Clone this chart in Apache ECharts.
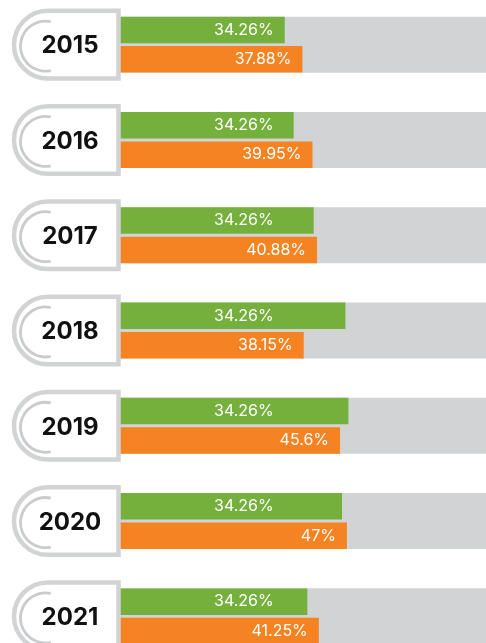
<!DOCTYPE html>
<html>
<head>
<meta charset="utf-8">
<script src="https://cdn.jsdelivr.net/npm/echarts@6/dist/echarts.min.js"></script>
<style>
  html, body { margin: 0; padding: 0; background: #fff; }
  #chart { width: 486px; height: 643px; }
</style>
</head>
<body>
<div id="chart"></div>
<script>
// data
var years = ["2015", "2016", "2017", "2018", "2019", "2020", "2021"];
var greenLabelValues = [34.26, 34.26, 34.26, 34.26, 34.26, 34.26, 34.26];
var greenBarValues = [34.26, 36.1, 40.2, 46.7, 47.3, 46.0, 38.9];
var orangeValues = [37.88, 39.95, 40.88, 38.15, 45.6, 47, 41.25];
var trackMax = 75.5;

var trackValues = years.map(function () { return trackMax; });

var chart = echarts.init(document.getElementById("chart"));

var labelFont = { color: "#fff", fontSize: 16, fontFamily: "Inter" };

// green label sits where the 34.26 mark is, whatever the bar length
var greenData = greenBarValues.map(function (v, i) {
  return {
    value: v,
    label: {
      show: true,
      position: [(greenLabelValues[i] / v * 100) + "%", "50%"],
      align: "right",
      verticalAlign: "middle",
      offset: [-11, 0],
      formatter: greenLabelValues[i] + "%",
      color: labelFont.color,
      fontSize: labelFont.fontSize,
      fontFamily: labelFont.fontFamily
    }
  };
});

var option = {
  animation: false,
  grid: { left: 117.5, right: 0, top: -3, bottom: -21, outerBoundsMode: "none" },
  xAxis: { type: "value", min: 0, max: trackMax, show: false },
  yAxis: [
    { type: "category", data: years, inverse: true, show: false },
    { type: "category", data: years, inverse: true, show: false }
  ],
  series: [
    {
      // grey track behind both bars
      type: "bar",
      yAxisIndex: 1,
      data: trackValues,
      barWidth: 56,
      itemStyle: { color: "#d1d3d4" },
      silent: true,
      z: 1
    },
    {
      type: "bar",
      data: greenData,
      barWidth: 26.5,
      barGap: "11%",
      itemStyle: { color: "#75b03c" },
      z: 2
    },
    {
      type: "bar",
      data: orangeValues,
      barWidth: 26.5,
      barGap: "11%",
      itemStyle: { color: "#f58322" },
      label: {
        show: true,
        position: "insideRight",
        distance: 11,
        color: labelFont.color,
        fontSize: labelFont.fontSize,
        fontFamily: labelFont.fontFamily,
        formatter: function (p) { return p.value + "%"; }
      },
      z: 2
    },
    {
      // year badges
      type: "custom",
      clip: false,
      z: 10,
      data: years.map(function (y) { return [0, y]; }),
      encode: { x: 0, y: 1 },
      renderItem: function (params, api) {
        var p = api.coord([0, api.value(1)]);
        var x = p[0], y = p[1];
        return {
          type: "group",
          children: [
            {
              type: "rect",
              shape: { x: x - 103.5, y: y - 33.8, width: 104.5, height: 67.6, r: [33.8, 0, 0, 33.8] },
              style: { fill: "#fff", stroke: "#d1d3d4", lineWidth: 4.5 }
            },
            {
              type: "arc",
              shape: { cx: x - 72, cy: y + 1.5, r: 25, startAngle: -1.36, endAngle: 1.36, clockwise: false },
              style: { fill: null, stroke: "#c9cbcc", lineWidth: 2.8 }
            },
            {
              type: "text",
              style: {
                text: years[params.dataIndex],
                x: x - 47.5,
                y: y + 1.5,
                align: "center",
                verticalAlign: "middle",
                fill: "#111",
                font: "bold 24px Inter"
              }
            }
          ]
        };
      }
    }
  ]
};

chart.setOption(option);
</script>
</body>
</html>
